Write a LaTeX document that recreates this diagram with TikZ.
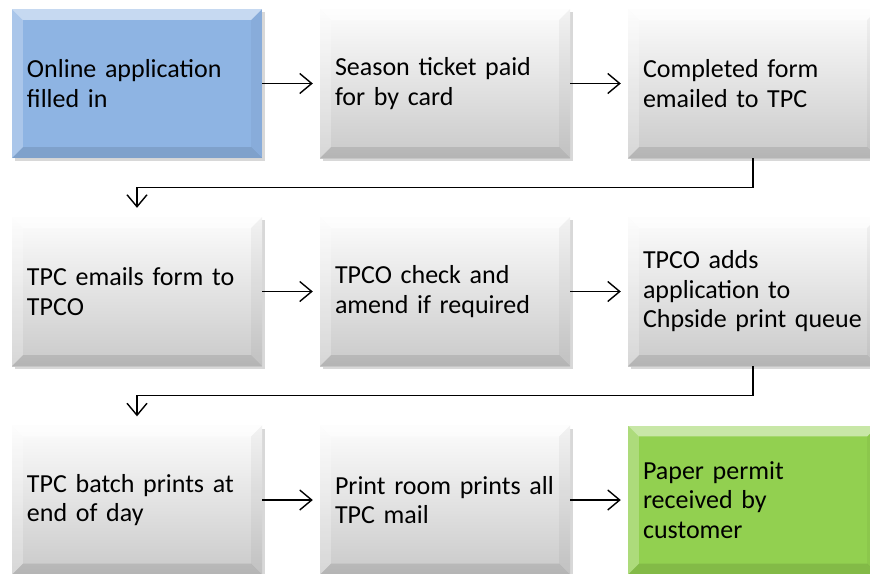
\documentclass[tikz,border=0pt]{standalone}
\usepackage{fontspec}
\setmainfont{Carlito}
\usetikzlibrary{arrows.meta,calc,shadows}
\definecolor{boxblue}{HTML}{8EB4E3}
\definecolor{boxgreen}{HTML}{92D050}
\tikzset{
  box/.style={rectangle, minimum width=250pt, minimum height=149pt,
    inner xsep=15pt, text width=220pt, align=left,
    font=\fontsize{26}{29.5}\selectfont,
    drop shadow={shadow xshift=3pt, shadow yshift=-3pt, opacity=0.3, fill=gray}},
  gbox/.style={box, top color=gray!2, middle color=gray!14, bottom color=gray!42},
  bbox/.style={box, fill=boxblue},
  grbox/.style={box, fill=boxgreen},
  arr/.style={draw=black, line width=1.4pt, -{Straight Barb[length=12pt,width=20pt,line width=1.4pt]}},
}
\newcommand\bevelbox[1]{%
  \fill[white,opacity=0.5] (#1.north west) -- (#1.north east) -- ($(#1.north east)+(-11,11)$) -- ($(#1.north west)+(11,11)$) -- cycle;
  \fill[white,opacity=0.25] (#1.north west) -- ($(#1.north west)+(11,11)$) -- ($(#1.south west)+(11,-11)$) -- (#1.south west) -- cycle;
  \fill[black,opacity=0.04] (#1.north east) -- ($(#1.north east)+(-11,11)$) -- ($(#1.south east)+(-11,-11)$) -- (#1.south east) -- cycle;
  \fill[black,opacity=0.10] (#1.south west) -- ($(#1.south west)+(11,-11)$) -- ($(#1.south east)+(-11,-11)$) -- (#1.south east) -- cycle;
}
\begin{document}
\begin{tikzpicture}[x=1pt,y=-1pt]
\clip (0,0) rectangle (870,573);
\fill[white] (0,0) rectangle (870,573);
% row 1
\node[bbox] (n1) at (137,83.5) {Online application\\filled in};
\node[gbox] (n2) at (445,83.5) {Season ticket paid\\for by card};
\node[gbox] (n3) at (753,83.5) {Completed form\\emailed to TPC};
% row 2
\node[gbox] (n4) at (137,291.5) {TPC emails form to\\TPCO};
\node[gbox] (n5) at (445,291.5) {TPCO check and\\amend if required};
\node[gbox] (n6) at (753,291.5) {TPCO adds\\application to\\Chpside print queue};
% row 3
\node[gbox] (n7) at (137,500) {TPC batch prints at\\end of day};
\node[gbox] (n8) at (445,500) {Print room prints all\\TPC mail};
\node[grbox] (n9) at (753,500) {Paper permit\\received by\\customer};
\foreach \n in {n1,n2,n3,n4,n5,n6,n7,n8,n9} {\bevelbox{\n}}
% connectors
\draw[arr, shorten >=7pt] (n1.east) -- (n2.west);
\draw[arr, shorten >=7pt] (n2.east) -- (n3.west);
\draw[arr, shorten >=7pt] (n4.east) -- (n5.west);
\draw[arr, shorten >=7pt] (n5.east) -- (n6.west);
\draw[arr, shorten >=7pt] (n7.east) -- (n8.west);
\draw[arr, shorten >=7pt] (n8.east) -- (n9.west);
\draw[arr, shorten >=9pt] (n3.south) -- ++(0,29) -| (n4.north);
\draw[arr, shorten >=9pt] (n6.south) -- ++(0,29) -| (n7.north);
\end{tikzpicture}
\end{document}
